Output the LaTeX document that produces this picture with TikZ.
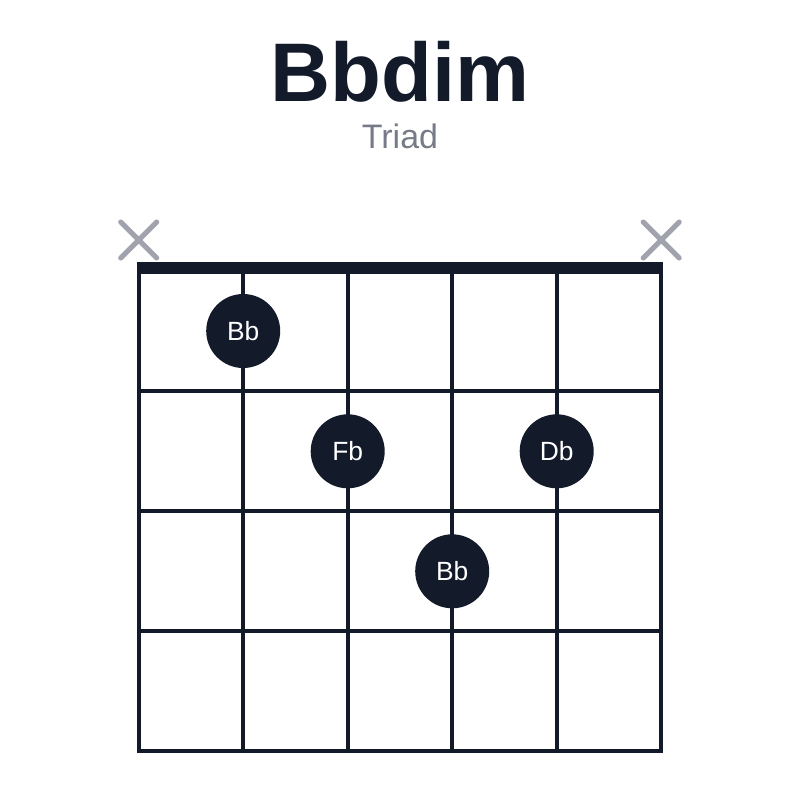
\documentclass[tikz,border=0pt]{standalone}
\usepackage{fontspec}
\setmainfont{Liberation Sans}
\definecolor{ink}{HTML}{131A2A}
\definecolor{mute}{HTML}{A0A3AC}
\definecolor{subtle}{HTML}{767B87}

\begin{document}
\begin{tikzpicture}[x=0.03cm,y=-0.03cm]
\tikzstyle{gridline}=[draw=ink,line width=3.4pt]
\tikzstyle{nutline}=[draw=ink,line width=10.2pt]
\tikzstyle{mutemark}=[draw=mute,line width=4.3pt,line cap=round]
\tikzstyle{finger}=[circle,fill=ink,text=white,minimum size=74*0.03cm,inner sep=0pt,
  font=\fontsize{22.5}{22.5}\selectfont]

\useasboundingbox (0,0) rectangle (800,800);

%% Title
\node[anchor=base,text=ink,font=\bfseries\fontsize{71}{71}\selectfont] (title) at (400,101) {Bbdim};
\node[anchor=base,text=subtle,font=\fontsize{29}{29}\selectfont] (subtitle) at (400,148) {Triad};

%% Strings and frets
\foreach \s in {0,...,5}
    \draw[gridline] (138.7+\s*104.5,268) -- (138.7+\s*104.5,751.7);
\foreach \f in {1,...,4}
    \draw[gridline,line cap=rect] (138.7,271.3+\f*120) -- (661.3,271.3+\f*120);
\draw[nutline] (136.7,268) -- (663.3,268);

%% Muted strings
\foreach \s/\n in {0/mutelow,5/mutehigh} {
    \coordinate (\n) at (138.7+\s*104.5,240);
    \draw[mutemark] ([shift={(-18,-18)}]\n) -- ([shift={(18,18)}]\n);
    \draw[mutemark] ([shift={(-18,18)}]\n) -- ([shift={(18,-18)}]\n);
}

%% Fingered notes
\node[finger] (root) at (243.2,331) {Bb};
\node[finger] (fifth) at (347.7,451.3) {Fb};
\node[finger] (third) at (556.7,451.3) {Db};
\node[finger] (octave) at (452.2,571.3) {Bb};

\end{tikzpicture}
\end{document}
